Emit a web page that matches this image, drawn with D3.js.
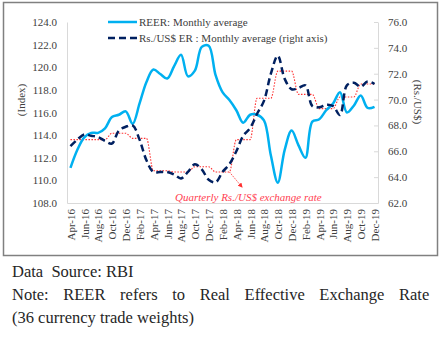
<!DOCTYPE html>
<html>
<head>
<meta charset="utf-8">
<script src="https://cdn.jsdelivr.net/npm/d3@7"></script>
<style>
  body { margin: 0; background: #fff; }
  svg text { font-family: "Liberation Serif", "Times New Roman", serif; }
</style>
</head>
<body>
<div id="chart"></div>
<script>
"use strict";

var months = ["Apr-16","May-16","Jun-16","Jul-16","Aug-16","Sep-16","Oct-16","Nov-16","Dec-16",
    "Jan-17","Feb-17","Mar-17","Apr-17","May-17","Jun-17","Jul-17","Aug-17","Sep-17","Oct-17","Nov-17","Dec-17",
    "Jan-18","Feb-18","Mar-18","Apr-18","May-18","Jun-18","Jul-18","Aug-18","Sep-18","Oct-18","Nov-18","Dec-18",
    "Jan-19","Feb-19","Mar-19","Apr-19","May-19","Jun-19","Jul-19","Aug-19","Sep-19","Oct-19","Nov-19","Dec-19"];

// REER index, monthly average (left axis)
var reer = [111.1, 112.7, 113.8, 114.2, 114.2, 114.6, 115.6, 115.8, 116.1,
    115.0, 116.8, 118.7, 119.8, 119.4, 119.0, 120.1, 121.1, 119.2, 119.7, 121.8, 121.9,
    119.3, 117.8, 117.1, 116.2, 115.1, 115.8, 115.8, 115.3, 112.2, 109.8, 112.7, 114.4,
    113.1, 112.0, 115.2, 115.4, 116.2, 116.8, 117.8, 116.0, 116.6, 117.5, 116.4, 116.5];

// Rs./US$, monthly average (right axis)
var rsUsd = [66.4, 66.9, 67.3, 67.2, 67.1, 66.8, 66.6, 67.6, 67.9,
    68.0, 66.9, 65.3, 64.4, 64.4, 64.4, 64.2, 63.9, 64.4, 65.0, 64.6, 63.8,
    63.6, 64.4, 65.0, 66.0, 67.2, 67.8, 68.9, 69.9, 72.0, 73.4, 71.6, 70.8,
    70.9, 71.1, 69.5, 69.4, 69.6, 69.5, 68.8, 71.1, 71.3, 71.0, 71.4, 71.2];

// Rs./US$, quarterly average (Apr-Jun 2016 onwards)
var rsUsdQuarterly = [66.9, 66.9, 67.4, 67.0, 64.5, 64.4, 64.8, 64.4, 66.9, 70.1, 72.2, 70.4, 69.3, 70.2, 71.2];

var leftTicks = [108, 110, 112, 114, 116, 118, 120, 122, 124];
var rightTicks = [62, 64, 66, 68, 70, 72, 74, 76];

var width = 442, height = 348;
var plot = { left: 67, right: 378, top: 22, bottom: 203 };
var textColor = "#404040";

var svg = d3.select("#chart")
    .append("svg")
    .attr("width", width)
    .attr("height", height);

svg.append("rect")
    .attr("x", 3.5)
    .attr("y", 2.5)
    .attr("width", 434)
    .attr("height", 253)
    .attr("fill", "none")
    .attr("stroke", "#808080")
    .attr("stroke-width", 1.5);

var x = d3.scalePoint()
    .domain(months)
    .range([plot.left, plot.right])
    .padding(0.5);

var yLeft = d3.scaleLinear().domain([108, 124]).range([plot.bottom, plot.top]);
var yRight = d3.scaleLinear().domain([62, 76]).range([plot.bottom, plot.top]);

// axes
var leftAxis = svg.append("g")
    .attr("transform", "translate(" + plot.left + ",0)")
    .call(d3.axisLeft(yLeft).tickValues(leftTicks).tickFormat(d3.format(".1f")).tickSize(0).tickPadding(10));

var rightAxis = svg.append("g")
    .attr("transform", "translate(" + plot.right + ",0)")
    .call(d3.axisRight(yRight).tickValues(rightTicks).tickFormat(d3.format(".1f")).tickSizeInner(-4).tickSizeOuter(0).tickPadding(10));

var bottomAxis = svg.append("g")
    .attr("transform", "translate(0," + plot.bottom + ")")
    .call(d3.axisBottom(x).tickValues(months.filter(function(d, i) { return i % 2 === 0; })).tickSize(0));

[leftAxis, rightAxis, bottomAxis].forEach(function(g) {
    g.select(".domain").attr("stroke", "#d9d9d9").attr("stroke-width", 1);
    g.selectAll(".tick line").attr("stroke", "#d9d9d9");
    g.selectAll("text")
        .attr("fill", textColor)
        .style("font-size", "11px")
        .style("font-family", "'Liberation Serif', serif");
});

bottomAxis.selectAll("text")
    .attr("transform", "rotate(-90)")
    .attr("text-anchor", "end")
    .attr("x", -6)
    .attr("y", 0)
    .attr("dy", "0.35em");

svg.append("text")
    .attr("transform", "translate(21,100) rotate(-90)")
    .attr("text-anchor", "middle")
    .attr("dy", "0.35em")
    .attr("fill", textColor)
    .style("font-size", "11px")
    .text("(Index)");

svg.append("text")
    .attr("transform", "translate(418,102) rotate(90)")
    .attr("text-anchor", "middle")
    .attr("dy", "0.35em")
    .attr("fill", textColor)
    .style("font-size", "11px")
    .text("(Rs./US$)");

// series
var monthlyLine = function(scale, values, curve) {
    return d3.line()
        .x(function(d, i) { return x(months[i]); })
        .y(function(d) { return scale(d); })
        .curve(curve)(values);
};

var quarterlyByMonth = months.map(function(m, i) { return rsUsdQuarterly[Math.floor(i / 3)]; });

svg.append("path")
    .attr("d", monthlyLine(yRight, quarterlyByMonth, d3.curveMonotoneX))
    .attr("fill", "none")
    .attr("stroke", "#ff3030")
    .attr("stroke-width", 1.1)
    .attr("stroke-dasharray", "1.5,1.5");

svg.append("path")
    .attr("d", monthlyLine(yLeft, reer, d3.curveCatmullRom))
    .attr("fill", "none")
    .attr("stroke", "#00b0f0")
    .attr("stroke-width", 2.5);

svg.append("path")
    .attr("d", monthlyLine(yRight, rsUsd, d3.curveCatmullRom))
    .attr("fill", "none")
    .attr("stroke", "#002060")
    .attr("stroke-width", 2.5)
    .attr("stroke-dasharray", "7,4");

// legend
var legend = svg.append("g");
legend.append("line")
    .attr("x1", 108).attr("x2", 137).attr("y1", 22).attr("y2", 22)
    .attr("stroke", "#00b0f0").attr("stroke-width", 2.5);
legend.append("text")
    .attr("x", 139).attr("y", 22).attr("dy", "0.35em")
    .attr("fill", textColor).style("font-size", "11px")
    .text("REER: Monthly average");
legend.append("line")
    .attr("x1", 108).attr("x2", 137).attr("y1", 38).attr("y2", 38)
    .attr("stroke", "#002060").attr("stroke-width", 2.5)
    .attr("stroke-dasharray", "7,4");
legend.append("text")
    .attr("x", 139).attr("y", 38).attr("dy", "0.35em")
    .attr("fill", textColor).style("font-size", "11px")
    .text("Rs./US$ ER : Monthly average (right axis)");

// quarterly annotation with arrow
svg.append("defs").append("marker")
    .attr("id", "arrow")
    .attr("viewBox", "0 0 10 10")
    .attr("refX", 8).attr("refY", 5)
    .attr("markerWidth", 6).attr("markerHeight", 6)
    .attr("orient", "auto")
    .append("path")
    .attr("d", "M0,0L10,5L0,10z")
    .attr("fill", "#ff3030");

svg.append("line")
    .attr("x1", x("Mar-18")).attr("y1", yRight(rsUsdQuarterly[7]))
    .attr("x2", 242).attr("y2", 187)
    .attr("stroke", "#ff3030")
    .attr("stroke-width", 0.8)
    .attr("stroke-dasharray", "1.5,1")
    .attr("marker-end", "url(#arrow)");

svg.append("text")
    .attr("x", 175).attr("y", 197).attr("dy", "0.35em")
    .attr("fill", "#ff4050")
    .style("font-size", "11px")
    .style("font-style", "italic")
    .text("Quarterly Rs./US$ exchange rate");

// notes below the chart; the note paragraph is justified, so its first line gets wide word gaps
var notes = ["Data  Source: RBI",
    "Note: REER refers to Real Effective Exchange Rate",
    "(36 currency trade weights)"];
var noteWordSpacing = [0, 10.5, 0];

svg.selectAll("text.note")
    .data(notes)
    .enter()
    .append("text")
    .attr("class", "note")
    .attr("x", 12)
    .attr("y", function(d, i) { return 277 + i * 23; })
    .attr("fill", "#262626")
    .style("font-size", "16.5px")
    .style("white-space", "pre")
    .style("word-spacing", function(d, i) { return noteWordSpacing[i] + "px"; })
    .text(function(d) { return d; });
</script>
</body>
</html>
